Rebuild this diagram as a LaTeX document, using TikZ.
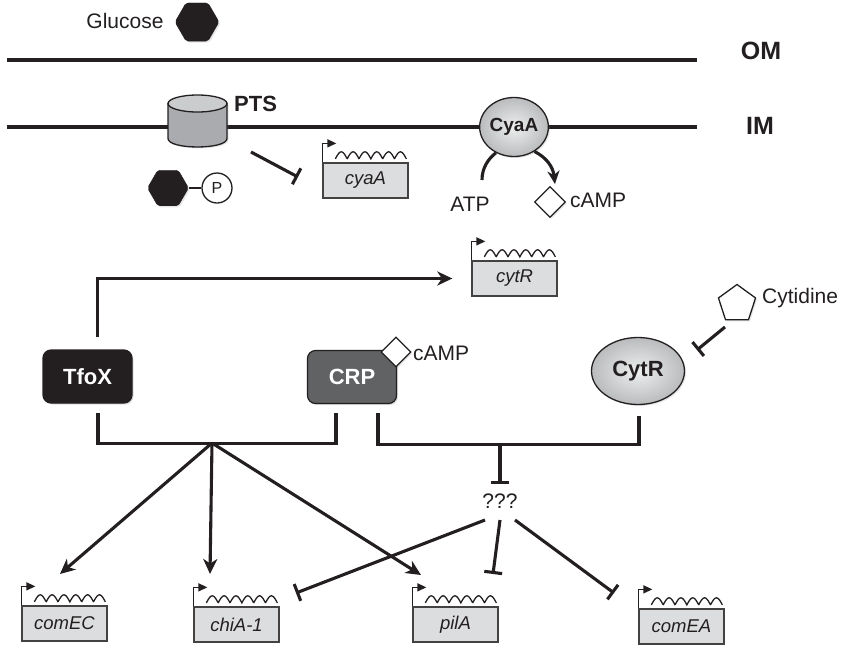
\documentclass[tikz,border=0pt]{standalone}
\usepackage{fontspec}
\setmainfont{Liberation Sans}
\usetikzlibrary{arrows.meta,shapes.geometric,shadows,calc}
\definecolor{ink}{HTML}{231F20}
\definecolor{genefill}{HTML}{DCDDDE}
\definecolor{protin}{HTML}{EEEFEF}
\definecolor{protout}{HTML}{B9BBBD}
\definecolor{cylbody}{HTML}{A9ABAE}
\definecolor{cyltop}{HTML}{CBCCCE}
\definecolor{tfoxfill}{HTML}{231F20}
\definecolor{crpfill}{HTML}{616264}
\newcommand{\mygene}[4]{%
  \node[gene] (#1) at (#2+42.5,#3+17.5) {#4};
  \draw[promoter] (#1.north west) -- ++(0,-19) -- ++(14,0);
  \begin{scope}[shift={(#1.north west)}]
    \draw[wave] plot[domain=0:71,samples=143,smooth] ({\x+13},{-3.5-7*abs(sin(\x*180/11.833))});
  \end{scope}
}
\begin{document}
\begin{tikzpicture}[x=1pt,y=-1pt,
  every node/.style={text=ink},
  txt/.style={font=\fontsize{21}{24}\selectfont, inner sep=0pt},
  btxt/.style={font=\fontsize{25}{28}\selectfont\bfseries, inner sep=0pt},
  memb/.style={line width=3.4pt, draw=ink},
  conn/.style={line width=3.1pt, draw=ink},
  act/.style={conn, -{Stealth[length=15pt,width=14pt,inset=4.5pt]}},
  inh/.style={conn, -{Bar[width=18pt]}},
  gene/.style={draw=ink!85, line width=1.3pt, fill=genefill, minimum width=85pt, minimum height=35pt, inner sep=0pt, font=\fontsize{18.5}{20}\selectfont\itshape},
  promoter/.style={draw=ink, line width=1.4pt, -{Triangle[length=9pt,width=8pt]}},
  wave/.style={draw=ink, line width=1.3pt},
  hexa/.style={regular polygon, regular polygon sides=6, fill=ink, draw=ink, rounded corners=2pt, inner sep=0pt, drop shadow={shadow xshift=1.5pt, shadow yshift=-1.5pt, opacity=0.2}},
  prot/.style={ellipse, draw=ink, line width=1.3pt, shading=radial, inner color=protin, outer color=protout, inner sep=0pt, drop shadow={shadow xshift=1.5pt, shadow yshift=-1.5pt, opacity=0.2}},
  pbox/.style={rounded corners=8pt, draw=ink, line width=1.2pt, minimum width=89pt, minimum height=53pt, inner sep=0pt, font=\fontsize{22}{24}\selectfont\bfseries, text=white, drop shadow={shadow xshift=1.5pt, shadow yshift=-1.5pt, opacity=0.25}},
  mol/.style={draw=ink, fill=white, line width=1.3pt, inner sep=0pt},
]
\useasboundingbox (0,0) rectangle (841,646);

% outside
\node[txt, anchor=base] (glutxt) at (125,28) {Glucose};
\node[hexa, minimum size=44pt] (glc) at (197,22) {};

% membranes
\draw[memb] (7,60) -- (697,60);
\node[btxt] (om) at (761,51) {OM};
\draw[memb] (7,127) -- (697,127);
\node[btxt] (im) at (760,126) {IM};

% PTS cylinder
\path[draw=ink, line width=1.3pt, fill=cylbody, drop shadow={shadow xshift=1.5pt, shadow yshift=-1.5pt, opacity=0.2}]
  (168,103.5) -- (168,138.5) .. controls (168,149.8) and (227,149.8) .. (227,138.5) -- (227,103.5) -- cycle;
\node[ellipse, draw=ink, line width=1.3pt, fill=cyltop, minimum width=59pt, minimum height=17pt, inner sep=0pt] (pts) at (197.5,103.5) {};
\node[font=\fontsize{22}{24}\selectfont\bfseries, inner sep=0pt, anchor=west] (ptslbl) at (234,104) {PTS};

% PTS inhibits cyaA
\coordinate (pi1) at (251,152);
\coordinate (pi2) at (298,177);
\draw[inh] (pi1) -- (pi2);

% glucose-P
\node[hexa, minimum size=41pt] (gp) at (168,188) {};
\node[circle, mol, minimum size=30pt, font=\fontsize{16}{18}\selectfont] (pc) at (217,188) {P};
\draw[line width=1.5pt, draw=ink] (gp) -- (pc);

% cyaA gene
\mygene{gcyaa}{323}{163}{cyaA}

% CyaA
\node[prot, minimum width=67pt, minimum height=59pt, font=\fontsize{19}{22}\selectfont\bfseries] (cyaa) at (514,127) {CyaA};
\coordinate (atp0) at (482,180);
\draw[conn] (atp0) .. controls (482,168) and (488,159) .. (cyaa.235);
\coordinate (campend) at (555,184);
\draw[conn, -{Stealth[length=13pt,width=12pt,inset=4pt]}] (cyaa.-50) .. controls (547,158) and (553,167) .. (campend);
\node[txt] (atp) at (470,204.5) {ATP};
\node[diamond, mol, minimum size=31pt, drop shadow={shadow xshift=1.5pt, shadow yshift=-1.5pt, opacity=0.2}] (camp1) at (550,202) {};
\node[txt, anchor=west] (camp1t) at (570,200.5) {cAMP};

% cytR gene
\mygene{gcytr}{472}{261}{cytR}

% regulators
\node[pbox, fill=tfoxfill] (tfox) at (87.5,376.5) {TfoX};
\node[pbox, fill=crpfill] (crp) at (352,377) {CRP};
\node[diamond, mol, minimum size=30pt, drop shadow={shadow xshift=1.5pt, shadow yshift=-1.5pt, opacity=0.2}] (camp2) at (396,352) {};
\node[txt, anchor=west] (camp2t) at (413,353) {cAMP};
\node[prot, minimum width=93pt, minimum height=67pt, font=\fontsize{22}{24}\selectfont\bfseries] (cytr) at (638,371) {CytR};
\node[regular polygon, regular polygon sides=5, mol, minimum size=39pt, drop shadow={shadow xshift=1.5pt, shadow yshift=-1.5pt, opacity=0.2}] (cyt) at (737,304) {};
\node[txt, anchor=base west] (cytd) at (762,303) {Cytidine};
\coordinate (ci1) at (725,327);
\coordinate (ci2) at (697,350);
\draw[inh] (ci1) -- (ci2);

% TfoX -> cytR
\draw[act] ($(tfox.north)+(10,-12)$) |- ($(gcytr.west)+(-19,0)$);

% brackets
\draw[conn] ($(tfox.south)+(10.5,9)$) -- ++(0,31) -| ($(crp.south)+(-16,9)$);
\draw[conn] ($(crp.south)+(26,9)$) -- ++(0,31) -| ($(cytr.south)+(1,11)$);
\coordinate (hubA) at (212,443);
\coordinate (hubB) at (500,443);

% ???
\node[txt] (q) at (500,501) {???};
\draw[inh] (hubB) -- ($(q.north)+(0,-9)$);

% target genes
\mygene{gcomec}{22}{606}{comEC}
\mygene{gchia}{194}{607}{chiA-1}
\mygene{gpila}{413}{607}{pilA}
\mygene{gcomea}{639}{609}{comEA}

% activation arrows
\coordinate (t1) at (60,574);
\coordinate (t2) at (210,574);
\coordinate (t3) at (421,575);
\draw[act] (hubA) -- (t1);
\draw[act] (hubA) -- (t2);
\draw[act] (hubA) -- (t3);

% repression from ???
\coordinate (r1s) at (485,520);
\coordinate (r2s) at (500,520);
\coordinate (r3s) at (515,520);
\coordinate (r1e) at (296,593);
\coordinate (r2e) at (493,574);
\coordinate (r3e) at (614,593);
\draw[inh] (r1s) -- (r1e);
\draw[inh] (r2s) -- (r2e);
\draw[inh] (r3s) -- (r3e);
\end{tikzpicture}
\end{document}
